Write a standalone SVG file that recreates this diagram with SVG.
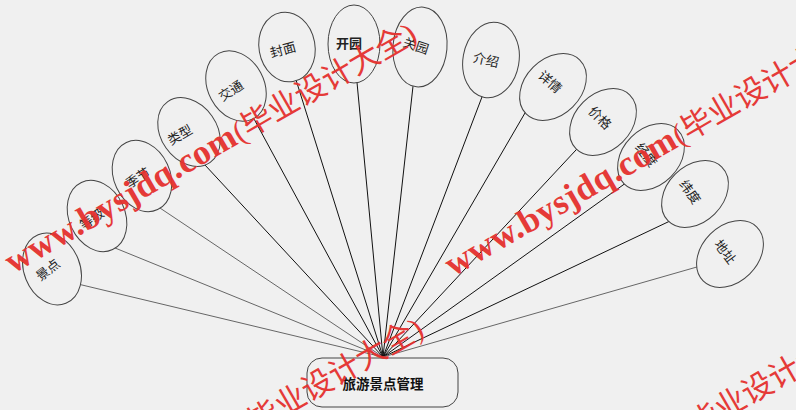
<svg xmlns="http://www.w3.org/2000/svg" width="796" height="410" viewBox="0 0 796 410">
<style>
.bg{fill:#f0f0f0}
.attr ellipse{fill:#f0f0f0;stroke:#444;stroke-width:1}
.attr text{font-family:"Liberation Serif","Noto Sans CJK SC",serif;font-size:13px;fill:#222;text-anchor:middle;dominant-baseline:central}
.dark{stroke:#111;stroke-width:1;fill:none}
.light{stroke:#666;stroke-width:1;fill:none}
.ent rect{fill:#f0f0f0;stroke:#444;stroke-width:1}
.ent text{font-family:"Liberation Serif","Noto Sans CJK SC",serif;font-size:13.5px;font-weight:bold;fill:#111;text-anchor:middle;dominant-baseline:central}
.wm{font-family:"Liberation Serif","Noto Sans CJK SC",serif;font-size:35px;font-weight:bold;fill:#e5312e;opacity:0.95;letter-spacing:0.5px}
.wm .cj{font-size:31px;font-weight:normal;letter-spacing:0}
</style>
<rect class="bg" x="0" y="0" width="796" height="410"/>
<g id="connectors">
<line class="light" x1="383" y1="357" x2="76.2" y2="283.6"/>
<line class="light" x1="383" y1="357" x2="109.4" y2="245.7"/>
<line class="light" x1="383" y1="357" x2="155" y2="204.7"/>
<line class="dark" x1="383" y1="357" x2="200.9" y2="160.6"/>
<line class="dark" x1="383" y1="357" x2="250.1" y2="111.7"/>
<line class="dark" x1="383" y1="357" x2="295.2" y2="77.3"/>
<line class="dark" x1="383" y1="357" x2="356.4" y2="76"/>
<line class="dark" x1="383" y1="357" x2="413.7" y2="80"/>
<line class="dark" x1="383" y1="357" x2="484.1" y2="91.4"/>
<line class="dark" x1="383" y1="357" x2="528" y2="107.8"/>
<line class="dark" x1="383" y1="357" x2="580.1" y2="145.6"/>
<line class="dark" x1="383" y1="357" x2="627.9" y2="181.5"/>
<line class="dark" x1="383" y1="357" x2="673.4" y2="219.4"/>
<line class="light" x1="383" y1="357" x2="702.8" y2="265.3"/>
</g>
<g id="node-jingdian" class="attr"><ellipse cx="52" cy="269" rx="28" ry="37" transform="rotate(-22 52 269)"/><text x="48" y="270" transform="rotate(-38 48 270)">景点</text></g>
<g id="node-dengji" class="attr"><ellipse cx="97" cy="216" rx="28" ry="37" transform="rotate(-25 97 216)"/><text x="92" y="219" transform="rotate(-35 92 219)">等级</text></g>
<g id="node-jijie" class="attr"><ellipse cx="142" cy="176" rx="28" ry="37" transform="rotate(-25 142 176)"/><text x="138" y="178" transform="rotate(-32 138 178)">季节</text></g>
<g id="node-leixing" class="attr"><ellipse cx="189" cy="132" rx="28" ry="37" transform="rotate(-35 189 132)"/><text x="180" y="135" transform="rotate(-30 180 135)">类型</text></g>
<g id="node-jiaotong" class="attr"><ellipse cx="236" cy="86" rx="28" ry="37" transform="rotate(-28 236 86)"/><text x="231" y="91" transform="rotate(-33 231 91)">交通</text></g>
<g id="node-fengmian" class="attr"><ellipse cx="287" cy="47" rx="28" ry="35" transform="rotate(-10 287 47)"/><text x="283" y="50" transform="rotate(-15 283 50)">封面</text></g>
<g id="node-kaiyuan" class="attr"><ellipse cx="354" cy="44" rx="26" ry="39"/><text x="349" y="43" style="font-weight:bold">开园</text></g>
<g id="node-guanyuan" class="attr"><ellipse cx="420" cy="47" rx="27" ry="40" transform="rotate(5 420 47)"/><text x="416" y="46" transform="rotate(18 416 46)">关园</text></g>
<g id="node-jieshao" class="attr"><ellipse cx="491" cy="60" rx="28" ry="38" transform="rotate(10 491 60)"/><text x="486" y="60" transform="rotate(13 486 60)">介绍</text></g>
<g id="node-xiangqing" class="attr"><ellipse cx="553" cy="87" rx="28" ry="38" transform="rotate(45 553 87)"/><text x="550" y="82" transform="rotate(42 550 82)">详情</text></g>
<g id="node-jiage" class="attr"><ellipse cx="603" cy="122" rx="28" ry="38" transform="rotate(45 603 122)"/><text x="600" y="118" transform="rotate(45 600 118)">价格</text></g>
<g id="node-jingdu" class="attr"><ellipse cx="651" cy="157" rx="28" ry="38" transform="rotate(45 651 157)"/><text x="646" y="155" transform="rotate(52 646 155)">经度</text></g>
<g id="node-weidu" class="attr"><ellipse cx="695" cy="194" rx="28" ry="38" transform="rotate(45 695 194)"/><text x="690" y="192" transform="rotate(55 690 192)">纬度</text></g>
<g id="node-dizhi" class="attr"><ellipse cx="730" cy="254" rx="28" ry="38" transform="rotate(45 730 254)"/><text x="725" y="252" transform="rotate(53 725 252)">地址</text></g>
<g id="node-main" class="ent"><rect x="307" y="358" width="151" height="49" rx="15" ry="15"/><text x="383" y="384">旅游景点管理</text></g>
<g id="watermark">
<text class="wm" x="13" y="274" transform="rotate(-30 13 274)">www.bysjdq.com<tspan class="cj">(毕业设计大全)</tspan></text>
<text class="wm" x="453" y="277" transform="rotate(-30 453 277)">www.bysjdq.com<tspan class="cj">(毕业设计大全)</tspan></text>
<text class="wm" x="20" y="569" transform="rotate(-30 20 569)">www.bysjdq.com<tspan class="cj">(毕业设计大全)</tspan></text>
<text class="wm" x="460" y="572" transform="rotate(-30 460 572)">www.bysjdq.com<tspan class="cj">(毕业设计大全)</tspan></text>
</g>
</svg>
